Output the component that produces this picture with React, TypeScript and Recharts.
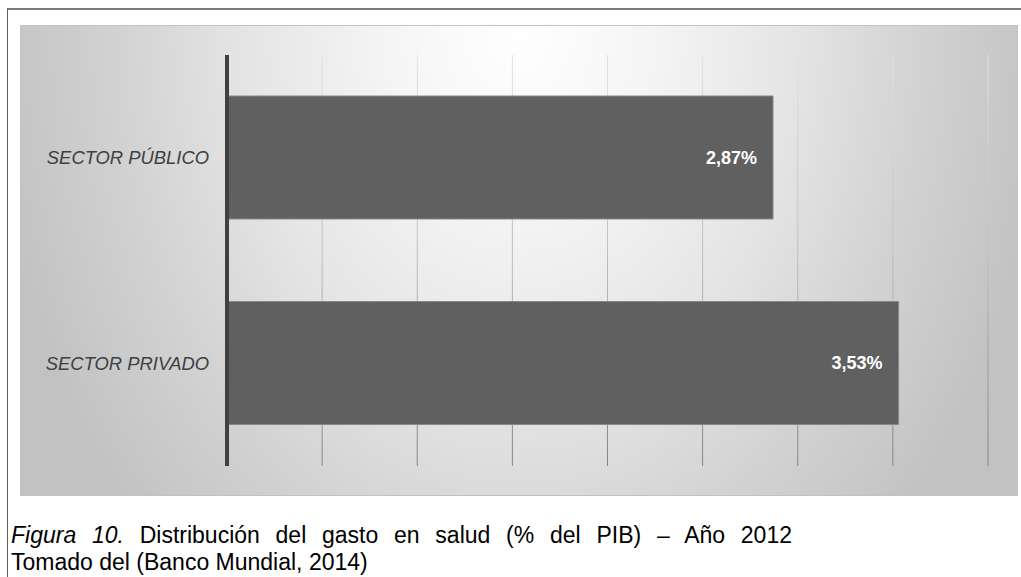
import React from 'react';
import { BarChart, Bar, XAxis, YAxis, CartesianGrid, LabelList } from 'recharts';

// Health expenditure split, % of GDP, 2012
const categories = ['SECTOR PÚBLICO', 'SECTOR PRIVADO'];
const shares = [2.87, 3.53];
const xTicks = [0, 0.5, 1, 1.5, 2, 2.5, 3, 3.5, 4];

const data = categories.map((name, i) => ({ name, value: shares[i] }));

const FONT = '"Liberation Sans", Arial, Helvetica, sans-serif';

const formatPct = (v: number) => v.toFixed(2).replace('.', ',') + '%';

const CategoryTick = (props: any) => {
  const { y, payload } = props;
  return (
    <text
      x={209}
      y={y}
      dy="0.35em"
      textAnchor="end"
      fontFamily={FONT}
      fontSize={18.4}
      fontStyle="italic"
      fill="#404040"
    >
      {payload.value}
    </text>
  );
};

export default function App() {
  return (
    <div
      style={{
        position: 'absolute',
        left: 0,
        top: 0,
        width: 1021,
        height: 577,
        background: '#ffffff',
        overflow: 'hidden',
        fontFamily: FONT,
      }}
    >
      {/* shared gradient for the vertical gridlines */}
      <svg width={0} height={0} style={{ position: 'absolute' }}>
        <defs>
          <linearGradient id="gridStroke" gradientUnits="userSpaceOnUse" x1={0} y1={55} x2={0} y2={466}>
            <stop offset="0%" stopColor="#e2e2e2" />
            <stop offset="50%" stopColor="#bdbdbd" />
            <stop offset="100%" stopColor="#848484" />
          </linearGradient>
        </defs>
      </svg>

      {/* page frame */}
      <div
        style={{
          position: 'absolute',
          left: 7,
          top: 8,
          right: -2,
          bottom: -2,
          borderLeft: '1px solid #5e5e5e',
          borderTop: '2px solid #7a7a7a',
        }}
      />

      {/* chart panel background */}
      <div
        style={{
          position: 'absolute',
          left: 20,
          top: 25,
          width: 998,
          height: 471,
          boxSizing: 'border-box',
          borderTop: '1px solid #c2c2c2',
          borderBottom: '1px solid #c2c2c2',
          background:
            'radial-gradient(ellipse 560px 760px at 50% 0%, #ffffff 0%, #f4f4f4 25%, #e4e4e4 50%, #d2d2d2 72%, #c2c2c2 95%)',
        }}
      />

      <div style={{ position: 'absolute', left: 0, top: 0 }}>
        <BarChart
          width={1021}
          height={577}
          data={data}
          layout="vertical"
          margin={{ top: 55, right: 33, bottom: 111, left: 0 }}
          barSize={123}
        >
          <CartesianGrid horizontal={false} vertical stroke="url(#gridStroke)" strokeWidth={1} />
          <XAxis type="number" domain={[0, 4]} ticks={xTicks} hide />
          <Bar dataKey="value" fill="#606060" stroke="#888888" strokeWidth={1} isAnimationActive={false}>
            <LabelList
              dataKey="value"
              position="insideRight"
              offset={16}
              formatter={(v: any) => formatPct(Number(v))}
              fill="#ffffff"
              fontFamily={FONT}
              fontSize={18}
              fontWeight="bold"
            />
          </Bar>
          <YAxis
            type="category"
            dataKey="name"
            width={227}
            tickLine={false}
            axisLine={{ stroke: '#404040', strokeWidth: 4 }}
            tick={<CategoryTick />}
          />
        </BarChart>
      </div>

      {/* figure caption: first line justified to the column width */}
      <div
        style={{
          position: 'absolute',
          left: 11,
          top: 522,
          width: 781,
          fontSize: 23,
          lineHeight: '27px',
          color: '#000000',
        }}
      >
        <div style={{ textAlign: 'justify', textAlignLast: 'justify', whiteSpace: 'nowrap' }}>
          <i>Figura 10.</i> Distribución del gasto en salud (% del PIB) – Año 2012
        </div>
        <div style={{ whiteSpace: 'nowrap' }}>Tomado del (Banco Mundial, 2014)</div>
      </div>
    </div>
  );
}
